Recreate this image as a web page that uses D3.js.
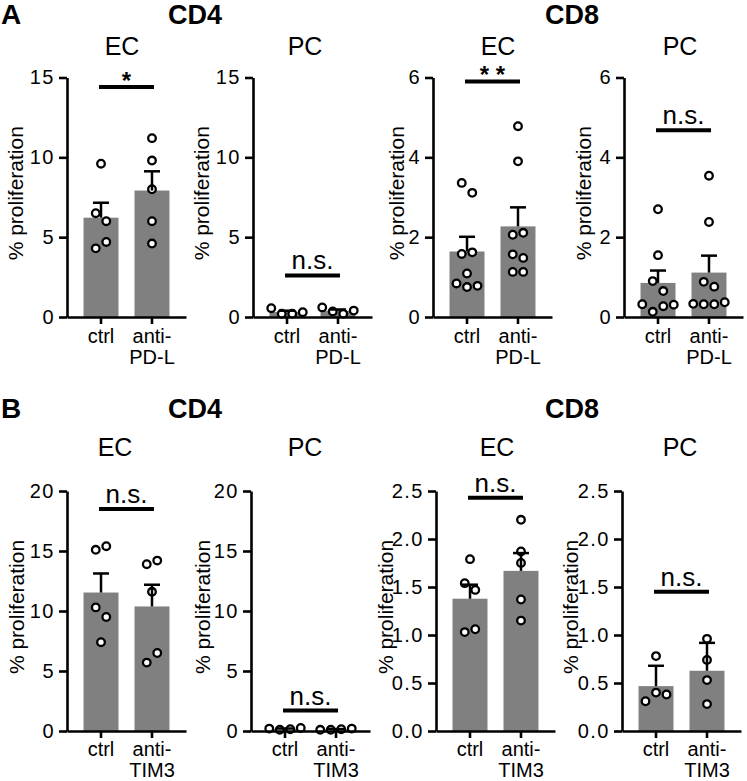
<!DOCTYPE html>
<html>
<head>
<meta charset="utf-8">
<script src="https://cdn.jsdelivr.net/npm/d3@7"></script>
<style>
  body { margin: 0; background: #fff; }
  svg { font-family: "Liberation Sans", Arial, sans-serif; }
</style>
</head>
<body>
<div id="chart"></div>
<script>
// groups and tick labels
const groups = ["ctrl", "anti"];
const xLabelsPdl = [["ctrl"], ["anti-", "PD-L"]];
const xLabelsTim = [["ctrl"], ["anti-", "TIM3"]];

const ticksCd4Pdl = [0, 5, 10, 15];
const ticksCd8Pdl = [0, 2, 4, 6];
const ticksCd4Tim = [0, 5, 10, 15, 20];
const ticksCd8Tim = [0, 0.5, 1.0, 1.5, 2.0, 2.5];

// individual values (% proliferation)
const cd4EcPdlCtrl = [9.6, 6.5, 6.0, 4.3, 4.7];
const cd4EcPdlAnti = [11.2, 9.8, 8.0, 6.0, 4.6];
const cd4PcPdlCtrl = [0.55, 0.2, 0.2, 0.3];
const cd4PcPdlAnti = [0.6, 0.35, 0.2, 0.4];
const cd8EcPdlCtrl = [3.36, 3.11, 1.58, 1.62, 1.09, 0.84, 0.75, 0.78];
const cd8EcPdlAnti = [4.78, 3.9, 2.06, 2.11, 1.57, 1.48, 1.13, 1.13];
const cd8PcPdlCtrl = [2.7, 1.55, 0.9, 0.65, 0.32, 0.13, 0.27, 0.31];
const cd8PcPdlAnti = [3.54, 2.38, 0.88, 0.76, 0.33, 0.32, 0.32, 0.37];

const cd4EcTimCtrl = [15.1, 15.4, 10.3, 9.5, 7.4];
const cd4EcTimAnti = [13.9, 14.2, 11.6, 5.7, 6.5];
const cd4PcTimCtrl = [0.2, 0.1, 0.15, 0.25];
const cd4PcTimAnti = [0.1, 0.1, 0.15, 0.2];
const cd8EcTimCtrl = [1.79, 1.54, 1.47, 1.03, 1.06];
const cd8EcTimAnti = [2.2, 1.87, 1.75, 1.37, 1.15];
const cd8PcTimCtrl = [0.78, 0.31, 0.4, 0.38];
const cd8PcTimAnti = [0.96, 0.74, 0.53, 0.28];

// significance labels
const sigPdl = ["*", "n.s.", "* *", "n.s."];
const sigTim = ["n.s.", "n.s.", "n.s.", "n.s."];

const width = 747, height = 781;
const svg = d3.select("#chart").append("svg")
  .attr("width", width)
  .attr("height", height);

const rows = [
  { letter: "A", letterY: 24, titleY: 55, top: 77.5, bottom: 317, xLabels: xLabelsPdl, labY: 343 },
  { letter: "B", letterY: 418, titleY: 456, top: 491, bottom: 731, xLabels: xLabelsTim, labY: 756 }
];

const panels = [
  { row: 0, axisX: 67, ticks: ticksCd4Pdl, fmt: "d", data: [cd4EcPdlCtrl, cd4EcPdlAnti], sub: "EC", subX: 122, sig: sigPdl[0], sigAt: 14.4, yLab: -52, err: "sem" },
  { row: 0, axisX: 253, ticks: ticksCd4Pdl, fmt: "d", data: [cd4PcPdlCtrl, cd4PcPdlAnti], sub: "PC", subX: 305, sig: sigPdl[1], sigAt: 2.6, yLab: -52, err: "sem" },
  { row: 0, axisX: 433, ticks: ticksCd8Pdl, fmt: "d", data: [cd8EcPdlCtrl, cd8EcPdlAnti], sub: "EC", subX: 498, sig: sigPdl[2], sigAt: 5.9, yLab: -37, err: "sem" },
  { row: 0, axisX: 624, ticks: ticksCd8Pdl, fmt: "d", data: [cd8PcPdlCtrl, cd8PcPdlAnti], sub: "PC", subX: 680, sig: sigPdl[3], sigAt: 4.68, yLab: -41, err: "sem" },
  { row: 1, axisX: 67, ticks: ticksCd4Tim, fmt: "d", data: [cd4EcTimCtrl, cd4EcTimAnti], sub: "EC", subX: 115, sig: sigTim[0], sigAt: 18.5, yLab: -51, err: "sem" },
  { row: 1, axisX: 251, ticks: ticksCd4Tim, fmt: "d", data: [cd4PcTimCtrl, cd4PcTimAnti], sub: "PC", subX: 305, sig: sigTim[1], sigAt: 1.7, yLab: -49, err: "sem" },
  { row: 1, axisX: 436, ticks: ticksCd8Tim, fmt: ".1f", data: [cd8EcTimCtrl, cd8EcTimAnti], sub: "EC", subX: 497, sig: sigTim[2], sigAt: 2.43, yLab: -51, err: "sem" },
  { row: 1, axisX: 622, ticks: ticksCd8Tim, fmt: ".1f", data: [cd8PcTimCtrl, cd8PcTimAnti], sub: "PC", subX: 680, sig: sigTim[3], sigAt: 1.45, yLab: -52, err: "sd" }
];

// row headings
rows.forEach(r => {
  svg.append("text").attr("x", 1).attr("y", r.letterY)
    .attr("font-size", 28).attr("font-weight", "bold").text(r.letter);
  svg.append("text").attr("x", 195).attr("y", r.letterY).attr("text-anchor", "middle")
    .attr("font-size", 27).attr("font-weight", "bold").text("CD4");
  svg.append("text").attr("x", 572).attr("y", r.letterY).attr("text-anchor", "middle")
    .attr("font-size", 27).attr("font-weight", "bold").text("CD8");
});

// lay points out in centred rows, like Prism's scatter
function swarm(vals, y, cx, step) {
  const pts = vals.map((v, i) => ({ v: v, i: i, py: y(v) }));
  const sorted = pts.slice().sort((a, b) => a.v - b.v);
  const clusters = [];
  let cur = [];
  sorted.forEach(p => {
    if (cur.length && Math.abs(cur[0].py - p.py) >= step) { clusters.push(cur); cur = []; }
    cur.push(p);
  });
  if (cur.length) clusters.push(cur);
  clusters.forEach(c => {
    c.sort((a, b) => a.i - b.i);
    c.forEach((p, k) => { p.px = cx + (k - (c.length - 1) / 2) * step; });
  });
  return pts;
}

panels.forEach(p => {
  const r = rows[p.row];
  const g = svg.append("g");

  const x = d3.scaleBand().domain(groups)
    .range([p.axisX, p.axisX + 119])
    .paddingInner(0.314).paddingOuter(0.324);
  const y = d3.scaleLinear()
    .domain([0, d3.max(p.ticks)])
    .range([r.bottom, r.top]);

  // bars
  const stats = p.data.map((vals, i) => {
    const m = d3.mean(vals);
    const sd = d3.deviation(vals);
    return { key: groups[i], mean: m, err: p.err === "sd" ? sd : sd / Math.sqrt(vals.length) };
  });

  g.selectAll("rect.bar").data(stats).join("rect")
    .attr("class", "bar")
    .attr("x", d => x(d.key))
    .attr("width", x.bandwidth())
    .attr("y", d => y(d.mean))
    .attr("height", d => y(0) - y(d.mean))
    .attr("fill", "#808080");

  // points
  p.data.forEach((vals, i) => {
    const cx = x(groups[i]) + x.bandwidth() / 2;
    const pts = swarm(vals, y, cx, 10.5);
    g.selectAll(null).data(pts).join("circle")
      .attr("cx", d => d.px)
      .attr("cy", d => d.py)
      .attr("r", 3.8)
      .attr("fill", "#fff")
      .attr("stroke", "#000")
      .attr("stroke-width", 2.3);
  });

  // error bars (upper only)
  stats.forEach(s => {
    const cx = x(s.key) + x.bandwidth() / 2;
    g.append("line")
      .attr("x1", cx).attr("x2", cx)
      .attr("y1", y(s.mean)).attr("y2", y(s.mean + s.err))
      .attr("stroke", "#000").attr("stroke-width", 2.5);
    g.append("line")
      .attr("x1", cx - 8).attr("x2", cx + 8)
      .attr("y1", y(s.mean + s.err)).attr("y2", y(s.mean + s.err))
      .attr("stroke", "#000").attr("stroke-width", 2.5);
  });

  // axes
  const yAxis = g.append("g")
    .attr("transform", `translate(${p.axisX},0)`)
    .call(d3.axisLeft(y).tickValues(p.ticks).tickFormat(d3.format(p.fmt))
      .tickSize(8).tickSizeOuter(0).tickPadding(4));
  const xAxis = g.append("g")
    .attr("transform", `translate(0,${r.bottom})`)
    .call(d3.axisBottom(x).tickSize(7).tickSizeOuter(0).tickFormat(""));

  [yAxis, xAxis].forEach(a => {
    a.select(".domain").attr("stroke", "#000").attr("stroke-width", 2.6);
    a.selectAll(".tick line").attr("stroke", "#000").attr("stroke-width", 2.6);
  });
  yAxis.selectAll(".tick text")
    .attr("font-size", 20).attr("fill", "#000")
    .attr("letter-spacing", 1.5)
    .attr("font-family", "Liberation Sans, Arial, sans-serif");

  // x labels, two lines for the treated group
  groups.forEach((k, i) => {
    const t = g.append("text")
      .attr("x", x(k) + x.bandwidth() / 2)
      .attr("y", r.labY)
      .attr("text-anchor", "middle")
      .attr("font-size", 20);
    r.xLabels[i].forEach((line, j) => {
      t.append("tspan")
        .attr("x", x(k) + x.bandwidth() / 2)
        .attr("dy", j === 0 ? 0 : 21)
        .text(line);
    });
  });

  // y title
  g.append("text")
    .attr("transform", `translate(${p.axisX + p.yLab},${(r.top + r.bottom) / 2 - 4}) rotate(-90)`)
    .attr("text-anchor", "middle")
    .attr("dominant-baseline", "central")
    .attr("font-size", 21)
    .text("% proliferation");

  // panel subtitle
  g.append("text")
    .attr("x", p.subX).attr("y", r.titleY)
    .attr("text-anchor", "middle")
    .attr("font-size", 25)
    .text(p.sub);

  // significance bar
  const x0 = x(groups[0]) + x.bandwidth() / 2 - 2;
  const x1 = x(groups[1]) + x.bandwidth() / 2 + 2;
  g.append("line")
    .attr("x1", x0).attr("x2", x1)
    .attr("y1", y(p.sigAt)).attr("y2", y(p.sigAt))
    .attr("stroke", "#000").attr("stroke-width", 4);
  const isStar = p.sig.indexOf("*") >= 0;
  g.append("text")
    .attr("x", (x0 + x1) / 2)
    .attr("y", y(p.sigAt) + (isStar ? 2 : -6))
    .attr("text-anchor", "middle")
    .attr("font-size", isStar ? 24 : 26)
    .attr("font-weight", isStar ? "bold" : "normal")
    .text(p.sig);
});
</script>
</body>
</html>
